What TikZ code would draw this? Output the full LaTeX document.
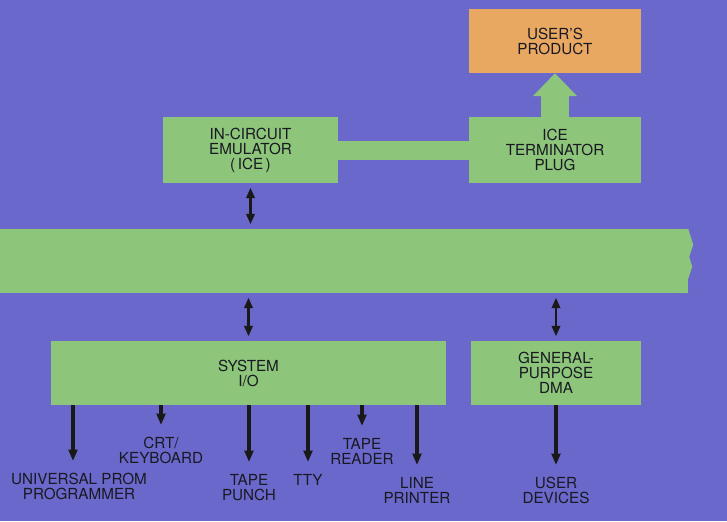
\documentclass[tikz,border=0pt]{standalone}
\usepackage{fontspec}
\setmainfont{TeX Gyre Heros}
\usetikzlibrary{positioning, arrows.meta, calc}
\definecolor{fondo}{RGB}{106,104,202}
\definecolor{verde}{RGB}{141,197,122}
\definecolor{naranja}{RGB}{233,168,98}
\definecolor{tinta}{RGB}{25,25,35}

\begin{document}
\begin{tikzpicture}[
        box_label/.style={font=\fontsize{13}{12.8}\selectfont, text=tinta, align=center, inner sep=0pt},
        green_box/.style={rectangle, fill=verde, box_label},
        orange_box/.style={rectangle, fill=naranja, box_label},
        dev_label/.style={box_label, anchor=north},
        bus_arrow/.style={black!90, line width=2.3pt, {Triangle[width=0.25cm,length=0.32cm]}-{Triangle[width=0.25cm,length=0.32cm]}, shorten <=0.13cm, shorten >=0.13cm},
        out_arrow/.style={black!90, line width=2.7pt, -{Triangle[width=0.26cm,length=0.34cm]}, shorten >=0.36cm},
        big_arrow/.style={verde, line width=0.84cm, -{Triangle[width=1.29cm,length=0.69cm]}}
    ]

        % Fondo
        \fill[fondo] (0,0) rectangle (21.81,-15.63);

        % Cajas superiores
        \node[orange_box, minimum width=5.16cm, minimum height=1.92cm] (prod) at (16.65,-1.23) {USER'S\\PRODUCT};
        \node[green_box, minimum width=5.25cm, minimum height=1.98cm] (ice) at (7.515,-4.5) {IN-CIRCUIT\\EMULATOR\\(\,ICE\,)};
        \node[green_box, minimum width=5.16cm, minimum height=1.98cm] (plug) at (16.65,-4.5) {ICE\\TERMINATOR\\PLUG};

        % Union ICE - plug
        \draw[verde, line width=0.57cm] (ice.east) -- (plug.west);
        \draw[big_arrow] (plug.north) -- (prod.south);

        % Bus
        \node[green_box, minimum width=20.64cm, minimum height=1.92cm] (bus) at (10.32,-7.83) {};
        \fill[verde] (bus.north east) -- ++(0.15,-0.48) -- ++(-0.12,-0.36) -- ++(0.09,-0.30) -- ++(-0.15,-0.45)
            -- (bus.south east) -- ++(-0.1,0) -- ($(bus.north east)+(-0.1,0)$) -- cycle;

        % Cajas inferiores
        \node[green_box, minimum width=11.85cm, minimum height=1.92cm] (sysio) at (7.455,-11.19) {SYSTEM\\I/O};
        \node[green_box, minimum width=5.1cm, minimum height=1.92cm] (dma) at (16.68,-11.19) {GENERAL-\\PURPOSE\\DMA};

        % Flechas del bus
        \draw[bus_arrow] (ice.south) -- (ice.south |- bus.north);
        \draw[bus_arrow] (sysio.north |- bus.south) -- (sysio.north);
        \draw[bus_arrow] (dma.north |- bus.south) -- (dma.north);

        % Dispositivos
        \node[dev_label] (prom) at (2.37,-14.19) {UNIVERSAL PROM\\PROGRAMMER};
        \node[dev_label] (crt) at (4.83,-13.11) {CRT/\\KEYBOARD};
        \node[dev_label] (punch) at (7.47,-14.22) {TAPE\\PUNCH};
        \node[dev_label] (tty) at (9.24,-14.22) {TTY};
        \node[dev_label] (reader) at (10.86,-13.14) {TAPE\\READER};
        \node[dev_label] (printer) at (12.51,-14.31) {LINE\\PRINTER};
        \node[dev_label] (devices) at (16.68,-14.31) {USER\\DEVICES};

        % Salidas
        \draw[out_arrow] ($(sysio.south -| prom.north)+(-0.18,0)$) -- ($(prom.north)+(-0.18,0)$);
        \foreach \lbl in {crt, punch, tty, reader, printer} {
            \draw[out_arrow] (sysio.south -| \lbl.north) -- (\lbl.north);
        }
        \draw[out_arrow] (dma.south) -- (devices.north);

    \end{tikzpicture}
\end{document}
